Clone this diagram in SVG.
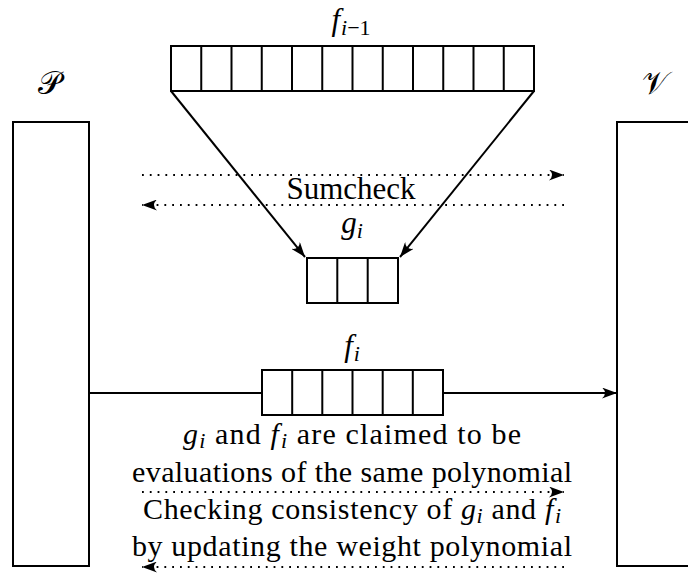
<svg xmlns="http://www.w3.org/2000/svg" width="688" height="578" viewBox="0 0 688 578">
<style>
.box{fill:#fff;stroke:#000;stroke-width:2}
.cell{fill:none;stroke:#000;stroke-width:2}
.ln{fill:none;stroke:#000;stroke-width:2}
.dot{fill:none;stroke:#000;stroke-width:2;stroke-dasharray:1.8 6}
.t{font-family:"Liberation Serif","DejaVu Serif",serif;font-size:31px;fill:#000;text-anchor:middle}
.b{font-size:30px}
.m{font-style:italic}
.s{font-size:22px}
.c{font-size:32px}
</style>
<defs>
<marker id="ah" viewBox="0 0 15 11" refX="15" refY="5.5" markerWidth="15" markerHeight="11" markerUnits="userSpaceOnUse" orient="auto">
<path d="M0,0 Q6,5.5 0,11 L15,5.5 Z" fill="#000"/>
</marker>
</defs>
<g id="prover">
<rect class="box" x="13" y="122" width="76" height="444"/>
<text class="t c" x="49" y="94">𝒫</text>
</g>
<g id="verifier">
<rect class="box" x="617" y="122" width="80" height="444"/>
<text class="t c" x="655" y="94">𝒱</text>
</g>
<g id="connectors">
<line class="ln" x1="171" y1="91" x2="305" y2="257" marker-end="url(#ah)"/>
<line class="ln" x1="534" y1="91" x2="400" y2="257" marker-end="url(#ah)"/>
<line class="dot" x1="142" y1="175" x2="564" y2="175" marker-end="url(#ah)"/>
<line class="dot" x1="564" y1="205" x2="142" y2="205" marker-end="url(#ah)"/>
<line class="ln" x1="89" y1="393" x2="617" y2="393" marker-end="url(#ah)"/>
<line class="dot" x1="142" y1="492" x2="564" y2="492" marker-end="url(#ah)"/>
<line class="dot" x1="564" y1="567" x2="142" y2="567" marker-end="url(#ah)"/>
</g>
<g id="f_prev">
<text class="t" x="351" y="30"><tspan class="m">f</tspan><tspan class="m s" dy="5" dx="1">i</tspan><tspan class="s">−1</tspan></text>
<rect class="cell" x="171" y="46" width="363" height="45"/>
<path class="cell" d="M201.25,46V91M231.5,46V91M261.75,46V91M292,46V91M322.25,46V91M352.5,46V91M382.75,46V91M413,46V91M443.25,46V91M473.5,46V91M503.75,46V91"/>
</g>
<g id="sumcheck">
<text class="t" x="351" y="199" font-size="32">Sumcheck</text>
</g>
<g id="g_i">
<text class="t" x="352" y="233"><tspan class="m">g</tspan><tspan class="m s" dy="5">i</tspan></text>
<rect class="cell" x="307" y="258" width="91" height="45"/>
<path class="cell" d="M337.3,258V303M367.7,258V303"/>
</g>
<g id="f_i">
<text class="t" x="352" y="356"><tspan class="m">f</tspan><tspan class="m s" dy="5" dx="1">i</tspan></text>
<rect class="box" x="262" y="370" width="181" height="45"/>
<path class="cell" d="M292.2,370V415M322.3,370V415M352.5,370V415M382.7,370V415M412.8,370V415"/>
</g>
<g id="claim">
<text class="t b" x="352" y="444" textLength="338" lengthAdjust="spacing"><tspan class="m">g</tspan><tspan class="m s" dy="4">i</tspan><tspan dy="-4"> and </tspan><tspan class="m">f</tspan><tspan class="m s" dy="4" dx="1">i</tspan><tspan dy="-4"> are claimed to be</tspan></text>
<text class="t b" x="352" y="482" textLength="440" lengthAdjust="spacing">evaluations of the same polynomial</text>
</g>
<g id="check">
<text class="t b" x="352" y="519" textLength="418" lengthAdjust="spacing">Checking consistency of <tspan class="m">g</tspan><tspan class="m s" dy="4">i</tspan><tspan dy="-4"> and </tspan><tspan class="m">f</tspan><tspan class="m s" dy="4" dx="1">i</tspan></text>
<text class="t b" x="352" y="556" textLength="440" lengthAdjust="spacing">by updating the weight polynomial</text>
</g>
</svg>
